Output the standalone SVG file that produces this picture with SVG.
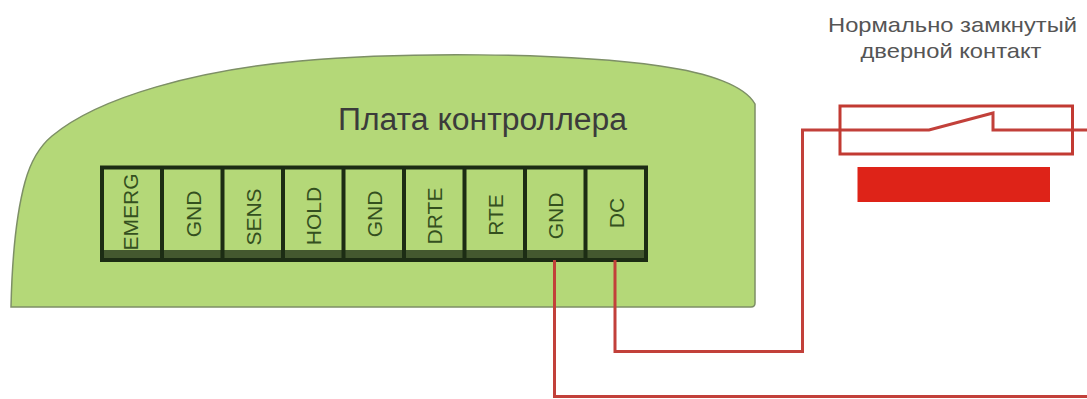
<svg xmlns="http://www.w3.org/2000/svg" width="1087" height="399" viewBox="0 0 1087 399">
<style>
text{font-family:"Liberation Sans",Arial,sans-serif}
.t{font-size:21px;fill:#34501f;text-anchor:middle}
.c{font-size:21px;fill:#555;text-anchor:middle}
.k{fill:none;stroke:#1c2c14;stroke-width:4}
.w{fill:none;stroke:#c2403a;stroke-width:3}
.s{fill:none;stroke:#c8231c;stroke-width:3}
</style>
<rect width="1087" height="399" fill="#fff"/>
<g id="board">
<path d="M11 307 C12 262 16 215 25 182 C31 160 40 146 52 136 C100 96 200 70 300 61 C400 52 560 52 660 66 C710 73 745 86 755 104 L755 303 Q755 307 751 307 Z" fill="#b4d878" stroke="#7d8f66" stroke-width="1.5"/>
<text x="482.500" y="130" font-size="31" fill="#3b3b3b" text-anchor="middle" textLength="289" lengthAdjust="spacingAndGlyphs">Плата контроллера</text>
</g>
<g id="terminals">
<rect x="102" y="250" width="544" height="9" fill="#44582f"/>
<path class="k" d="M102 167.500H646V260H102ZM162 167.500V261M222.500 167.500V261M283 167.500V261M343.500 167.500V261M404 167.500V261M464.500 167.500V261M525 167.500V261M585.500 167.500V261"/>
</g>
<g id="t-emerg"><text class="t" transform="translate(138 212) rotate(-90)">EMERG</text></g>
<g id="t-gnd1"><text class="t" transform="translate(201 214) rotate(-90)">GND</text></g>
<g id="t-sens"><text class="t" transform="translate(261 217) rotate(-90)">SENS</text></g>
<g id="t-hold"><text class="t" transform="translate(321 216) rotate(-90)">HOLD</text></g>
<g id="t-gnd2"><text class="t" transform="translate(382 214) rotate(-90)">GND</text></g>
<g id="t-drte"><text class="t" transform="translate(442 216) rotate(-90)">DRTE</text></g>
<g id="t-rte"><text class="t" transform="translate(503 215) rotate(-90)">RTE</text></g>
<g id="t-gnd3"><text class="t" transform="translate(563 216) rotate(-90)">GND</text></g>
<g id="t-dc"><text class="t" transform="translate(624 213) rotate(-90)">DC</text></g>
<g id="connectors">
<path class="w" d="M554.500 260V396.500H1087"/>
<path class="w" d="M615 260V351.500H802.500V130H929L993 113V130H1087"/>
</g>
<g id="contact">
<rect x="840" y="106" width="232.500" height="48" fill="none" stroke="#c23a32" stroke-width="3"/>
<rect x="857.500" y="167" width="192.500" height="35" fill="#de2318"/>
<text class="c" x="952.500" y="32" textLength="249" lengthAdjust="spacingAndGlyphs">Нормально замкнутый</text>
<text class="c" x="951" y="58" textLength="181" lengthAdjust="spacingAndGlyphs">дверной контакт</text>
</g>
</svg>
